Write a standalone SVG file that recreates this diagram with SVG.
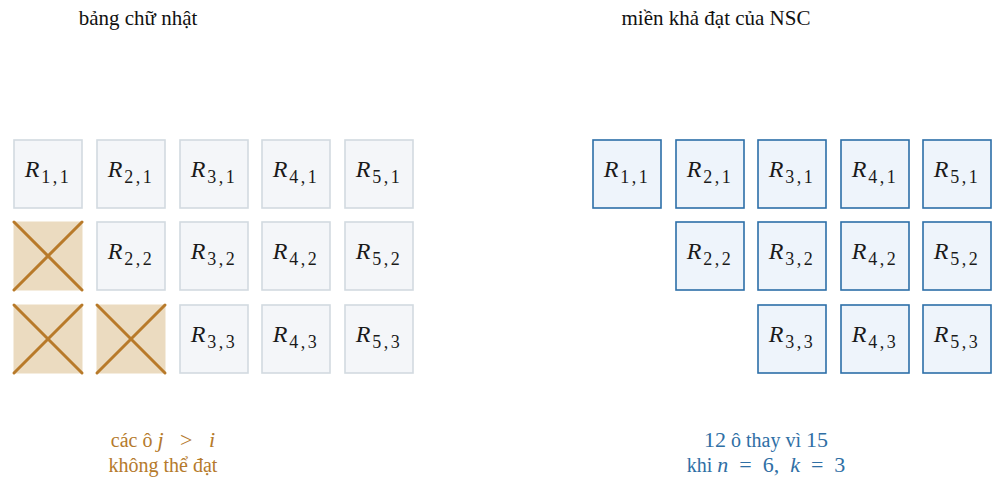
<svg xmlns="http://www.w3.org/2000/svg" width="1005" height="490" viewBox="0 0 1005 490">
<style>
text{font-family:"Liberation Serif","DejaVu Serif",serif;}
.t{font-size:21px;fill:#111;text-anchor:middle;}
.g{fill:#f4f6f9;stroke:#d2dae0;stroke-width:1.6;}
.x{fill:#ebdbc0;stroke:#ebdbc0;stroke-width:1;}
.xl{stroke:#b87a2a;stroke-width:3;stroke-linecap:round;}
.b{fill:#eef4fb;stroke:#2c6fa8;stroke-width:1.6;}
.lab{font-size:24px;fill:#1a1a1a;text-anchor:middle;}
.R{font-style:italic;}
.s{font-size:18px;letter-spacing:2.5px;}
.o{font-size:20px;fill:#b57a2c;text-anchor:middle;}
.bl{font-size:20px;fill:#2f6fa5;text-anchor:middle;}
.m{font-size:22px;}
</style>
<text class="t" x="138" y="25">bảng chữ nhật</text>
<text class="t" x="716" y="25">miền khả đạt của NSC</text>

<g id="left-grid">
<g id="L11"><rect class="g" x="14" y="140" width="68" height="68"/><text class="lab" x="48" y="177"><tspan class="R">R</tspan><tspan class="s" dx="2" dy="6">1,1</tspan></text></g>
<g id="L21"><rect class="g" x="97" y="140" width="68" height="68"/><text class="lab" x="131" y="177"><tspan class="R">R</tspan><tspan class="s" dx="2" dy="6">2,1</tspan></text></g>
<g id="L31"><rect class="g" x="180" y="140" width="68" height="68"/><text class="lab" x="214" y="177"><tspan class="R">R</tspan><tspan class="s" dx="2" dy="6">3,1</tspan></text></g>
<g id="L41"><rect class="g" x="262" y="140" width="68" height="68"/><text class="lab" x="296" y="177"><tspan class="R">R</tspan><tspan class="s" dx="2" dy="6">4,1</tspan></text></g>
<g id="L51"><rect class="g" x="345" y="140" width="68" height="68"/><text class="lab" x="379" y="177"><tspan class="R">R</tspan><tspan class="s" dx="2" dy="6">5,1</tspan></text></g>

<g id="X12"><rect class="x" x="14" y="222" width="68" height="68"/><line class="xl" x1="14" y1="222" x2="82" y2="290"/><line class="xl" x1="82" y1="222" x2="14" y2="290"/></g>
<g id="L22"><rect class="g" x="97" y="222" width="68" height="68"/><text class="lab" x="131" y="259"><tspan class="R">R</tspan><tspan class="s" dx="2" dy="6">2,2</tspan></text></g>
<g id="L32"><rect class="g" x="180" y="222" width="68" height="68"/><text class="lab" x="214" y="259"><tspan class="R">R</tspan><tspan class="s" dx="2" dy="6">3,2</tspan></text></g>
<g id="L42"><rect class="g" x="262" y="222" width="68" height="68"/><text class="lab" x="296" y="259"><tspan class="R">R</tspan><tspan class="s" dx="2" dy="6">4,2</tspan></text></g>
<g id="L52"><rect class="g" x="345" y="222" width="68" height="68"/><text class="lab" x="379" y="259"><tspan class="R">R</tspan><tspan class="s" dx="2" dy="6">5,2</tspan></text></g>

<g id="X13"><rect class="x" x="14" y="305" width="68" height="68"/><line class="xl" x1="14" y1="305" x2="82" y2="373"/><line class="xl" x1="82" y1="305" x2="14" y2="373"/></g>
<g id="X23"><rect class="x" x="97" y="305" width="68" height="68"/><line class="xl" x1="97" y1="305" x2="165" y2="373"/><line class="xl" x1="165" y1="305" x2="97" y2="373"/></g>
<g id="L33"><rect class="g" x="180" y="305" width="68" height="68"/><text class="lab" x="214" y="342"><tspan class="R">R</tspan><tspan class="s" dx="2" dy="6">3,3</tspan></text></g>
<g id="L43"><rect class="g" x="262" y="305" width="68" height="68"/><text class="lab" x="296" y="342"><tspan class="R">R</tspan><tspan class="s" dx="2" dy="6">4,3</tspan></text></g>
<g id="L53"><rect class="g" x="345" y="305" width="68" height="68"/><text class="lab" x="379" y="342"><tspan class="R">R</tspan><tspan class="s" dx="2" dy="6">5,3</tspan></text></g>
</g>

<g id="right-grid">
<g id="N11"><rect class="b" x="593" y="140" width="68" height="68"/><text class="lab" x="627" y="177"><tspan class="R">R</tspan><tspan class="s" dx="2" dy="6">1,1</tspan></text></g>
<g id="N21"><rect class="b" x="676" y="140" width="68" height="68"/><text class="lab" x="710" y="177"><tspan class="R">R</tspan><tspan class="s" dx="2" dy="6">2,1</tspan></text></g>
<g id="N31"><rect class="b" x="758" y="140" width="68" height="68"/><text class="lab" x="792" y="177"><tspan class="R">R</tspan><tspan class="s" dx="2" dy="6">3,1</tspan></text></g>
<g id="N41"><rect class="b" x="841" y="140" width="68" height="68"/><text class="lab" x="875" y="177"><tspan class="R">R</tspan><tspan class="s" dx="2" dy="6">4,1</tspan></text></g>
<g id="N51"><rect class="b" x="923" y="140" width="68" height="68"/><text class="lab" x="957" y="177"><tspan class="R">R</tspan><tspan class="s" dx="2" dy="6">5,1</tspan></text></g>

<g id="N22"><rect class="b" x="676" y="222" width="68" height="68"/><text class="lab" x="710" y="259"><tspan class="R">R</tspan><tspan class="s" dx="2" dy="6">2,2</tspan></text></g>
<g id="N32"><rect class="b" x="758" y="222" width="68" height="68"/><text class="lab" x="792" y="259"><tspan class="R">R</tspan><tspan class="s" dx="2" dy="6">3,2</tspan></text></g>
<g id="N42"><rect class="b" x="841" y="222" width="68" height="68"/><text class="lab" x="875" y="259"><tspan class="R">R</tspan><tspan class="s" dx="2" dy="6">4,2</tspan></text></g>
<g id="N52"><rect class="b" x="923" y="222" width="68" height="68"/><text class="lab" x="957" y="259"><tspan class="R">R</tspan><tspan class="s" dx="2" dy="6">5,2</tspan></text></g>

<g id="N33"><rect class="b" x="758" y="305" width="68" height="68"/><text class="lab" x="792" y="342"><tspan class="R">R</tspan><tspan class="s" dx="2" dy="6">3,3</tspan></text></g>
<g id="N43"><rect class="b" x="841" y="305" width="68" height="68"/><text class="lab" x="875" y="342"><tspan class="R">R</tspan><tspan class="s" dx="2" dy="6">4,3</tspan></text></g>
<g id="N53"><rect class="b" x="923" y="305" width="68" height="68"/><text class="lab" x="957" y="342"><tspan class="R">R</tspan><tspan class="s" dx="2" dy="6">5,3</tspan></text></g>
</g>

<text class="o" x="163" y="447" xml:space="preserve">các ô <tspan class="m" font-style="italic">j</tspan><tspan class="m">   &gt;   </tspan><tspan class="m" font-style="italic">i</tspan></text>
<text class="o" x="163" y="472">không thể đạt</text>
<text class="bl" x="766" y="447"><tspan class="m">12</tspan> ô thay vì <tspan class="m">15</tspan></text>
<text class="bl" x="766" y="472" xml:space="preserve">khi <tspan class="m" font-style="italic">n</tspan><tspan class="m">  =  6,  </tspan><tspan class="m" font-style="italic">k</tspan><tspan class="m">  =  3</tspan></text>
</svg>
